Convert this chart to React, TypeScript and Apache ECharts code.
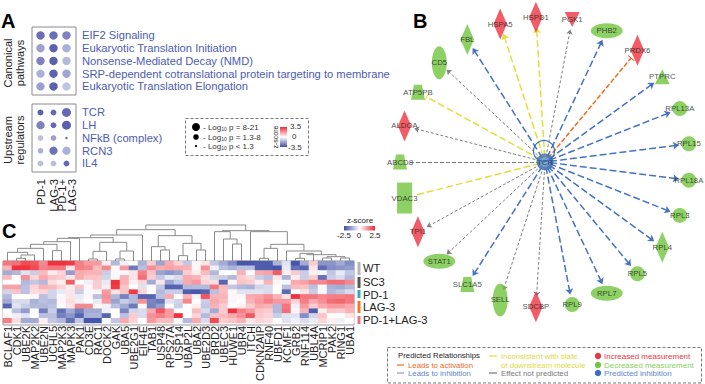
import React, { useEffect, useRef } from "react";
import * as echarts from "echarts";

const FONT = "Liberation Sans";

// Panel A
const pathways = ["EIF2 Signaling", "Eukaryotic Translation Initiation", "Nonsense-Mediated Decay (NMD)", "SRP-dependent cotranslational protein targeting to membrane", "Eukaryotic Translation Elongation"];
const regulators = ["TCR", "LH", "NFkB (complex)", "RCN3", "IL4"];
const contrasts = ["PD-1", "LAG-3", "PD-1+\nLAG-3"];
const pathwayZ = [[-2.9, -2.9, -2.5], [-1.9, -3.2, -1.6], [-2.5, -3.2, -1.4], [-1.6, -3.1, -1.8], [-1.9, -3.2, -1.2]];
const pathwayLogP = [[12, 12, 12], [12, 12, 12], [12, 12, 12], [11, 12, 12], [11, 12, 11]];
const regulatorZ = [[-3.2, -3.0, -3.0], [-2.5, -3.0, -3.2], [-1.3, -1.9, -3.0], [-1.6, -2.8, -1.6], [-1.3, -1.3, -3.0]];
const regulatorLogP = [[5, 4, 18], [11, 4, 18], [3, 3, 1], [3, 11, 10], [4, 4, 4]];

// Panel B
const hub = "TCR";
const targets = ["ABCD8", "ALDOA", "ATP5PB", "CD5", "FBL", "HSPA5", "HSPD1", "PGK1", "PHB2", "PRDX6", "PTPRC", "RPL13A", "RPL15", "RPL18A", "RPL3", "RPL4", "RPL5", "RPL7", "RPL9", "SDCBP", "SELL", "SLC1A5", "STAT1", "TPI1", "VDAC3"];
const increased = ["ALDOA", "HSPA5", "HSPD1", "PGK1", "PRDX6", "SDCBP", "TPI1"];
const diamonds = ["ALDOA", "FBL", "HSPA5", "HSPD1", "PRDX6", "RPL4", "SDCBP", "TPI1"];
const tallEllipses = ["CD5", "SELL"];
const wideEllipses = ["PHB2", "RPL7", "STAT1"];
const trapezoids = ["ABCD8", "ATP5PB", "SLC1A5"];
const inhibitionArrows = ["FBL", "PHB2", "PTPRC", "RPL13A", "RPL15", "RPL18A", "RPL3", "RPL4", "RPL5", "RPL7", "RPL9", "SLC1A5"];
const unpredictedArrows = ["ALDOA", "CD5", "PGK1", "SDCBP", "SELL", "STAT1", "TPI1"];
const unpredictedPlain = ["ABCD8"];
const inconsistentArrows = ["HSPA5", "HSPD1"];
const inconsistentBars = ["ATP5PB"];
const inconsistentPlain = ["VDAC3"];
const activationBars = ["PRDX6"];

// Panel C
const genes = ["BCLAF1", "CDK1", "UBE2K", "MAP2K2", "UBE2N", "UCHL5", "MAP2K3", "MAPK3", "PAK1", "CD3E", "RAC1", "DOCK2", "GAK", "UBA5", "UBE2G1", "EIF4E", "TAB1", "USP48", "RPS27A", "USP14", "UBAP2L", "UBA2", "UBE2D3", "BRD2", "UBEC3", "HUWE1", "UBR4", "ITCH", "CDKN2AIP", "RNF40", "UBFD1", "KCMF1", "GRB2", "RNF114", "UBL4A", "MCRIP1", "PAK2", "RING1", "UBA1"];
const r1 = [1.6, 1.7, 2.1, 2.0, 1.4, 2.4, 2.4, 2.3, 1.5, 1.2, 1.2, 0.2, -1.0, -0.2, 0, -1.1, 0.6, -1.3, 1.0, 0.5, -0.8, 0.1, 0.3, -0.8, -1.2, -1.6, -2.4, -2.4, -2.3, -2.3, -1.1, -0.4, -2.4, -1.2, 0.6, -1.5, -1.5, -1.2, -1.6];
const r2 = [0.9, 2.4, 2.4, 2.1, 1.5, 1.6, 1.6, 0.3, 1.5, 1.4, 0.8, 1.4, 0.1, 1.2, -1.9, -0.9, 1.3, 1.0, 1.1, 1.0, 0.9, 0.1, 1.3, -0.2, -0.9, -1.1, -0.9, -0.9, -2.3, -2.3, -2.4, -0.3, -2.0, -2.2, 0.3, -2.1, -1.6, -1.5, -1.4];
const r3 = [-1.2, -1.0, -0.4, -0.7, 0.8, 0.2, 0.5, -1.4, 1.0, 0.9, 0.9, -0.7, 0.1, -0.1, 0.3, 1.5, 0.7, -1.3, -1.5, -1.3, 0.6, 0.2, 0.8, -1.0, 0, 0, 0.9, 0, 1.0, 1.1, 1.9, 0.2, 0.6, -0.7, 0.2, -0.1, -0.8, -0.3, -0.8];
const r4 = [0.8, 0, 1.3, 0.5, 1.0, 0.7, 0.6, 0.3, 1.0, 0.7, 0.7, -0.6, -0.1, 0.9, 0.3, 1.7, 0.6, -0.8, -0.3, -0.5, 1.0, 0.9, 0.4, -0.6, -0.7, -1.0, 0.6, 0.4, -0.7, -0.9, 0.3, -1.1, 0.2, -0.7, 0.6, -2.0, -0.7, -0.5, -1.0];
const r5 = [0, 0, -1.0, -0.8, -1.0, 0.4, 0.2, 1.9, 0, -0.2, 0.6, -0.3, 2.4, 0.9, 0.2, 0.5, -1.2, 0.3, -1.3, -0.8, 1.0, 1.2, 0.5, 0.4, -2.2, 0.1, 0.7, 0.6, 0.2, 0.9, 0.1, -0.1, 1.0, 1.1, 1.4, 1.4, 1.7, 1.7, 1.4];
const r6 = [1.1, 1.1, -0.9, 0.5, 0.9, 0.8, 0.5, 0.2, 0.7, 0.1, 0.6, -0.2, 2.3, 0.7, 0, -0.4, 0, -0.8, -2.2, -2.2, -1.0, -1.0, -1.0, 1.6, 0.8, -0.8, -1.0, -1.1, -0.6, -0.5, 0, -0.9, 0.8, 0.7, -0.9, -0.1, -1.1, -1.2, -1.0];
const r7 = [-0.6, 0.7, -0.9, 0.4, 0.5, -0.6, -0.3, 0.3, -0.7, -0.1, 0.1, 1.2, 0.3, 0.7, 2.3, 0.5, 0, -1.0, -0.7, -0.7, -2.3, -2.4, -2.2, -0.9, 0.8, 0.1, -0.4, -0.4, -0.4, -0.5, 0, -2.1, 0, 0.3, -0.7, 0.1, -1.0, -0.8, -0.5];
const r8 = [-1.0, 0, 0, 0.1, -0.9, -0.6, -0.1, 0.3, -0.3, 0.1, -0.9, 1.3, -1.0, -1.8, -1.0, -2.2, -2.2, -0.9, 1.0, 0, 0.9, 0.2, 2.0, 0.9, 0.9, 0.1, 0.1, 1.0, 1.1, 1.3, 0.9, 0.3, 2.4, 1.6, 1.6, 1.4, 1.5, 1.5, 1.6];
const r9 = [-1.2, -0.5, -0.5, -1.1, -0.9, -1.0, 0.1, 0.4, -0.2, 0, -0.3, 1.2, -1.3, -0.7, -1.0, 1.3, -1.7, -1.9, -0.4, -0.6, 1.4, 0, -0.7, 1.0, 0.8, -0.1, 0, 0.9, 1.2, 1.5, 1.2, 1.2, 0.5, 1.5, 1.0, 1.3, 1.7, 1.8, 1.6];
const r10 = [-2.2, -0.4, -0.7, -1.0, -1.0, -0.9, 0, 0.3, 1.4, 1.4, 0.1, -0.2, -0.9, -1.2, -1.9, 0.1, -1.8, -1.4, 0, -0.7, 0, 0.2, -0.8, 0.9, 0.6, 0, 0.2, 0.6, 1.0, 0.9, -1.0, 1.6, -0.2, 1.2, 0.6, 1.0, 1.2, 1.2, 1.0];
const r11 = [0, -0.9, -1.4, 0, -1.8, -0.7, -2.0, -1.2, -1.8, -1.2, -1.2, -0.2, 0, -1.7, -0.6, -0.5, 1.0, 2.0, 1.2, 0, 0, 0.8, -0.5, -1.2, 0.6, 2.4, 1.5, 1.2, 0.7, 0.6, -1.0, 1.7, 0.1, 0.9, -2.3, 0.2, 0.7, 0.6, 0.9];
const r12 = [0.1, -0.2, -0.4, 0, -0.9, -0.9, -1.8, -1.5, -2.2, -1.1, -1.1, -2.2, 0, -0.9, 0.6, -0.5, 1.3, 1.5, 1.2, 2.4, 0, 0.5, -1.0, 0.7, 0.8, 1.0, 1.3, 2.0, 0.6, 0.5, -0.7, -0.4, -0.4, -1.6, -0.6, 0.7, 0, 0, 0.3];
const r13 = [1.5, 0.4, -1.2, -1.2, 0.2, -0.8, -1.0, -2.0, -0.8, -2.4, -2.4, -0.1, -0.8, 1.0, 0.5, 0, 1.2, 0.8, 0.8, -0.1, -1.0, 1.0, -0.5, 2.1, 0.6, 0.7, 0.9, 0.3, 0.5, 0.4, 0, -0.4, -0.2, -0.5, -0.3, 0.5, 0.2, -0.2, 0];
const heatRows = [r1, r2, r3, r4, r5, r6, r7, r8, r9, r10, r11, r12, r13];
const groupNames = ["WT", "SC3", "PD-1", "LAG-3", "PD-1+LAG-3"];
// dendrogram: positive = gene column (1-based), negative = earlier merge (1-based), third = height
const merges = [
  [2, 3, 8], [-1, 4, 18], [1, -2, 26], [-3, 5, 38], [6, 7, 31], [-4, -5, 50], [-6, 8, 58], [-7, 9, 68],
  [10, 11, 6], [-9, 12, 29], [13, 14, 6], [-11, 15, 30], [-10, -12, 56], [-8, -13, 70], [-14, 16, 78],
  [18, 19, 33], [17, -16, 43], [20, 21, 16], [22, 23, 33], [-18, -19, 53], [-17, -20, 76], [-15, -21, 94],
  [26, 27, 51], [25, -23, 66], [24, -24, 88], [29, 30, 8], [-26, 31, 38], [33, 34, 8], [-28, 35, 23],
  [38, 39, 9], [36, 37, 9], [-31, -30, 13], [-29, -32, 19], [32, -33, 30], [-27, -34, 50], [28, -35, 88],
  [-25, -36, 91], [-22, -37, 108],
];

const BLUE = "#4472c4", YELLOW = "#e6dc3a", ORANGE = "#ef6a1f", GRAY = "#808080";
const RED_NODE = "#ee3340", GREEN_NODE = "#71c63f";
const TEXT_BLUE = "#4c5cb3";
const HEAT = { left: 3, top: 261, width: 351, height: 64 };
const RING = { cx: 545, cy: 162, r: 145, gap: 10, start: 5 };
const BAR = "path://M0,4.4L10,4.4L10,5.6L0,5.6ZM0,0L0.01,0L0,0.01ZM0,10L0.01,10L0,9.99Z";
const TRAPEZOID = "path://M3,0L11,0L14,15L0,15Z";

function ringPoint(name: string, radius: number) {
  const a = Math.PI + (targets.indexOf(name) * 2 * Math.PI) / targets.length;
  return [RING.cx + radius * Math.cos(a), RING.cy + radius * Math.sin(a)];
}
function edgeSeries(names: string[], color: string, width: number, dash: number[], symbol: string, size: number) {
  return {
    type: "lines", coordinateSystem: "cartesian2d", xAxisIndex: 3, yAxisIndex: 3, z: 3,
    symbol: ["none", symbol], symbolSize: size,
    lineStyle: { color, width, type: dash, opacity: 1 },
    data: names.map((n) => ({ coords: [ringPoint(n, RING.start), ringPoint(n, RING.r - RING.gap)] })),
  };
}
function nodeItem(name: string) {
  const [x, y] = ringPoint(name, RING.r);
  let symbol = "circle"; let size: number[] = [15, 15]; let rotate = 0;
  if (diamonds.includes(name)) { symbol = "diamond"; size = [13.5, 31]; }
  else if (tallEllipses.includes(name)) size = [15, 33];
  else if (wideEllipses.includes(name)) size = [32, 15];
  else if (trapezoids.includes(name)) { symbol = TRAPEZOID; size = [14, 15]; }
  else if (name === "PTPRC") symbol = "triangle";
  else if (name === "PGK1") { symbol = "triangle"; rotate = 180; }
  else if (name === "VDAC3") { symbol = "rect"; size = [15, 31]; }
  return {
    name, value: [x, y], symbol, symbolSize: size, symbolRotate: rotate,
    itemStyle: { color: increased.includes(name) ? RED_NODE : GREEN_NODE },
  };
}
function dendroData() {
  const center: number[] = []; const top: number[] = [];
  const colX = (i: number) => HEAT.left + (i - 0.5) * (HEAT.width / genes.length);
  const pos = (ref: number) => (ref > 0 ? [colX(ref), HEAT.top] : [center[-ref - 1], HEAT.top - top[-ref - 1] / 3]);
  return merges.map(([a, b, h]) => {
    const pa = pos(a), pb = pos(b);
    const y = HEAT.top - h / 3;
    center.push((pa[0] + pb[0]) / 2); top.push(h);
    return { coords: [pa, [pa[0], y], [pb[0], y], pb] };
  });
}
function dots(z: number[][], logP: number[][]) {
  const out: any[] = [];
  z.forEach((row, r) => row.forEach((v, c) => {
    const p = logP[r][c];
    out.push({ value: [c, r, v, p], symbolSize: p < 1.3 ? 2.5 : p < 8 ? 5 + p * 0.2 : 8 + (p - 8) * 0.1 });
  }));
  return out;
}
function t(text: string, x: number, y: number, fontSize: number, fill = "#222", extra: any = {}, styleExtra: any = {}) {
  return {
    type: "text", x, y, z: 20, ...extra,
    style: { text, fontSize, fill, fontFamily: FONT, align: "left", verticalAlign: "middle", ...styleExtra },
  };
}
function seg(x1: number, y1: number, x2: number, y2: number, stroke: string, lineWidth = 1.2) {
  return { type: "line", z: 20, shape: { x1, y1, x2, y2 }, style: { stroke, lineWidth } };
}
function box(x: number, y: number, width: number, height: number, stroke: string, dash?: number[]) {
  return { type: "rect", z: 1, shape: { x, y, width, height }, style: { fill: "none", stroke, lineWidth: 1, lineDash: dash } };
}
function dot(cx: number, cy: number, r: number, fill: string) {
  return { type: "circle", z: 20, shape: { cx, cy, r }, style: { fill } };
}
function gradient(x: number, y: number, width: number, height: number, vertical: boolean, colors: string[]) {
  const stops = colors.map((color, i) => ({ offset: i / (colors.length - 1), color }));
  return {
    type: "rect", z: 20, shape: { x, y, width, height },
    style: { fill: new echarts.graphic.LinearGradient(0, 0, vertical ? 0 : 1, vertical ? 1 : 0, stops) },
  };
}

const HEAT_COLORS = ["#3f4fa6", "#ffffff", "#ee2a35"];
const rot = { rotation: Math.PI / 2 };
const mid = { align: "center" };
const sub = { rich: { s: { fontSize: 5, fill: "#333", fontFamily: FONT, padding: [3, 0, 0, 0] } } };

function buildOption() {
  const catAxis = (gridIndex: number, data: string[], extra: any = {}) => ({
    type: "category", gridIndex, data, axisLine: { show: false }, axisTick: { show: false }, splitLine: { show: false }, ...extra,
  });
  const overlayGraphic: any[] = [
    t("A", 1, 21, 20, "#000", {}, { fontWeight: "bold" }),
    t("B", 413, 21, 20, "#000", {}, { fontWeight: "bold" }),
    t("C", 2, 231, 20, "#000", {}, { fontWeight: "bold" }),
    box(32, 27, 44, 68, "#8a8a8a"), box(32, 104, 44, 68, "#8a8a8a"),
    t("Canonical", 8, 63, 11, "#222", rot, mid), t("pathways", 20, 63, 11, "#222", rot, mid),
    t("Upstream", 8, 140, 11, "#222", rot, mid), t("regulators", 20, 140, 11, "#222", rot, mid),
    box(185.5, 118.5, 123, 37, "#777", [3, 2]),
    dot(196, 127, 4, "#000"), dot(196, 137, 2.8, "#000"), dot(196, 146, 1.1, "#000"),
    t("- Log{s|10} p = 8-21", 203, 127, 8, "#333", {}, sub),
    t("- Log{s|10} p = 1.3-8", 203, 137, 8, "#333", {}, sub),
    t("- Log{s|10} p < 1.3", 203, 146, 8, "#333", {}, sub),
    t("z-score", 275, 137, 7, "#222", { rotation: Math.PI / 2 }, mid),
    gradient(280, 127, 7, 20, true, ["#ee2a35", "#ffffff", "#3f4fa6"]),
    t("3.5", 290, 126.5, 8, "#333"), t("0", 292, 136.5, 8, "#333"), t("-3.5", 288, 147, 8, "#333"),
    t("z-score", 360, 220, 8, "#222", {}, mid),
    gradient(344, 226, 31, 4.5, false, HEAT_COLORS),
    t("-2.5", 344, 235, 8, "#222", {}, mid), t("0", 359, 235, 8, "#222", {}, mid), t("2.5", 375, 235, 8, "#222", {}, mid),
    box(HEAT.left, HEAT.top, HEAT.width, HEAT.height, "#999"),
    { type: "rect", z: 20, shape: { x: 357.5, y: 262, width: 3, height: 13 }, style: { fill: "#b5b5b5" } },
    { type: "rect", z: 20, shape: { x: 357.5, y: 277, width: 3, height: 11 }, style: { fill: "#555555" } },
    { type: "rect", z: 20, shape: { x: 357.5, y: 290, width: 3, height: 8 }, style: { fill: "#35a9b5" } },
    { type: "rect", z: 20, shape: { x: 357.5, y: 301, width: 3, height: 12 }, style: { fill: "#f07a2a" } },
    { type: "rect", z: 20, shape: { x: 357.5, y: 316, width: 3, height: 8 }, style: { fill: "#ef7080" } },
    t(groupNames[0], 363, 268, 11.2), t(groupNames[1], 363, 281.5, 11.2), t(groupNames[2], 363, 294.5, 11.2),
    t(groupNames[3], 363, 307, 11.2), t(groupNames[4], 363, 320, 11.2),
    { type: "circle", z: 12, shape: { cx: 544, cy: 151, r: 10.5 }, style: { fill: "none", stroke: "#2f6fbf", lineWidth: 1.1 } },
    box(387.5, 347.5, 314, 35.5, "#777", [3, 2]),
    t("Predicted Relationships", 398, 355, 7.8, "#222"),
    seg(397, 365, 404, 365, ORANGE), t("Leads to activation", 408, 365, 7.8, ORANGE),
    seg(397, 373, 404, 373, "#7f9fd8"), t("Leads to inhibition", 408, 373, 7.8, "#5f86cc"),
    seg(489, 356, 497, 356, YELLOW), t("Inconsistent with state", 501, 356, 7.8, "#e2d83e"), t("of downstream molecule", 501, 365, 7.8, "#e2d83e"),
    seg(489, 373, 497, 373, "#777"), t("Effect not predicted", 501, 373, 7.8, "#777"),
    dot(598, 356, 3.2, RED_NODE), t("Increased measurement", 604, 356, 8, RED_NODE),
    dot(598, 365, 3.2, GREEN_NODE), t("Decreased measurement", 604, 365, 8, "#8ad260"),
    dot(598, 373, 3.2, "#3e6fbf"), t("Predicted inhibition", 604, 373, 8, "#5f86cc"),
  ];
  const heatData: number[][] = [];
  heatRows.forEach((row, r) => row.forEach((v, c) => heatData.push([c, r, v])));
  const hubGradient = new echarts.graphic.RadialGradient(0.5, 0.5, 0.5, [
    { offset: 0, color: "#6f97c9" }, { offset: 1, color: "#3a6eb3" },
  ]);
  return {
    animation: false,
    textStyle: { fontFamily: FONT },
    graphic: overlayGraphic,
    grid: [
      { left: 34, top: 29.1, width: 39, height: 63.75 },
      { left: 34, top: 106.1, width: 39, height: 63.75 },
      { left: HEAT.left, top: HEAT.top, width: HEAT.width, height: HEAT.height },
      { left: 0, top: 0, width: 705, height: 384 },
    ],
    xAxis: [
      catAxis(0, contrasts, { show: false }),
      catAxis(1, contrasts, { axisLabel: { rotate: 90, fontSize: 11.4, color: "#222", margin: 9, interval: 0, lineHeight: 10, align: "right", verticalAlign: "middle" } }),
      catAxis(2, genes, { axisLabel: { rotate: 90, fontSize: 11, color: "#222", margin: 3, interval: 0, align: "right", verticalAlign: "middle" } }),
      { type: "value", gridIndex: 3, min: 0, max: 705, show: false },
    ],
    yAxis: [
      catAxis(0, pathways, { inverse: true, position: "right", axisLabel: { fontSize: 11.2, color: TEXT_BLUE, margin: 9, interval: 0 } }),
      catAxis(1, regulators, { inverse: true, position: "right", axisLabel: { fontSize: 11.2, color: TEXT_BLUE, margin: 9, interval: 0 } }),
      catAxis(2, heatRows.map((_, i) => String(i)), { inverse: true, show: false }),
      { type: "value", gridIndex: 3, min: 0, max: 384, inverse: true, show: false },
    ],
    visualMap: [
      { show: false, type: "continuous", seriesIndex: [0, 1], dimension: 2, min: -3.5, max: 3.5, inRange: { color: ["#4a50a6", "#ffffff", "#ee2a35"] } },
      { show: false, type: "continuous", seriesIndex: 2, dimension: 2, min: -2.5, max: 2.5, inRange: { color: HEAT_COLORS } },
    ],
    series: [
      { type: "scatter", xAxisIndex: 0, yAxisIndex: 0, data: dots(pathwayZ, pathwayLogP), itemStyle: { opacity: 1 } },
      { type: "scatter", xAxisIndex: 1, yAxisIndex: 1, data: dots(regulatorZ, regulatorLogP), itemStyle: { opacity: 1 } },
      { type: "heatmap", xAxisIndex: 2, yAxisIndex: 2, data: heatData, progressive: 0 },
      {
        type: "lines", coordinateSystem: "cartesian2d", xAxisIndex: 3, yAxisIndex: 3, polyline: true,
        lineStyle: { color: "#8a8a8a", width: 1, opacity: 1 }, data: dendroData(),
      },
      edgeSeries(inhibitionArrows, BLUE, 1.5, [7, 3], "arrow", 6),
      edgeSeries(unpredictedArrows, GRAY, 1, [3, 2], "arrow", 5),
      edgeSeries(unpredictedPlain, GRAY, 1, [4, 2], "none", 5),
      edgeSeries(inconsistentArrows, YELLOW, 1.5, [7, 3], "arrow", 6),
      edgeSeries(inconsistentBars, YELLOW, 1.5, [7, 3], BAR, 8),
      edgeSeries(inconsistentPlain, YELLOW, 1.5, [7, 3], "none", 6),
      edgeSeries(activationBars, ORANGE, 1.5, [5, 2], BAR, 8),
      {
        type: "scatter", xAxisIndex: 3, yAxisIndex: 3, z: 5,
        label: { show: true, position: "inside", formatter: "{b}", fontSize: 7.8, color: "#222", fontFamily: FONT },
        labelLayout: { hideOverlap: false },
        data: [
          ...targets.map(nodeItem),
          { name: hub, value: [RING.cx, RING.cy], symbol: "circle", symbolSize: 17, itemStyle: { color: hubGradient } },
        ],
      },
    ],
  };
}

export default function App() {
  const ref = useRef<HTMLDivElement>(null);
  useEffect(() => {
    document.body.style.margin = "0";
    const chart = echarts.init(ref.current!, undefined, { renderer: "svg" });
    chart.setOption(buildOption() as any);
    return () => chart.dispose();
  }, []);
  return <div ref={ref} style={{ width: 705, height: 384, background: "#fff" }} />;
}
